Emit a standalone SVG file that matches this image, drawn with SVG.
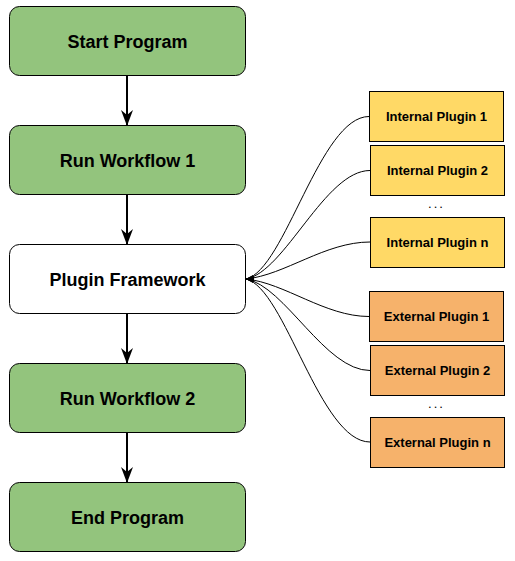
<svg xmlns="http://www.w3.org/2000/svg" width="515" height="561" viewBox="0 0 515 561">
<defs>
<marker id="arr" viewBox="0 0 16 12" refX="15" refY="6" markerWidth="16" markerHeight="12" markerUnits="userSpaceOnUse" orient="auto">
<path d="M0,0 L16,6 L0,12 L5,6 Z" fill="#000"/>
</marker>
<marker id="sm" viewBox="0 0 10 6" refX="10" refY="3" markerWidth="8" markerHeight="5" markerUnits="userSpaceOnUse" orient="auto">
<path d="M0,0 L10,3 L0,6 Z" fill="#000"/>
</marker>
<style>
.main{stroke:#000;stroke-width:1;}
.g{fill:#93c47d;}
.w{fill:#fff;}
.y{fill:#ffd966;}
.o{fill:#f6b26b;}
.t{font-family:"Liberation Sans",Arial,sans-serif;font-weight:bold;font-size:18px;fill:#000;text-anchor:middle;}
.s{font-family:"Liberation Sans",Arial,sans-serif;font-weight:bold;font-size:13px;fill:#000;text-anchor:middle;}
.flow{stroke:#000;stroke-width:2;fill:none;marker-end:url(#arr);}
.curve{stroke:#000;stroke-width:1;fill:none;marker-end:url(#sm);}
</style>
</defs>
<g id="connectors">
<line class="flow" x1="127" y1="76" x2="127" y2="125"/>
<line class="flow" x1="127" y1="195" x2="127" y2="244"/>
<line class="flow" x1="127" y1="314" x2="127" y2="363"/>
<line class="flow" x1="127" y1="433" x2="127" y2="482"/>
<path class="curve" d="M369,116.5 C320,116.5 285,270 246,279"/>
<path class="curve" d="M370,170.5 C325,170.5 285,272 246,279"/>
<path class="curve" d="M370,242 C325,242 285,275 246,279"/>
<path class="curve" d="M369,316.5 C325,316.5 285,283 246,279"/>
<path class="curve" d="M370,370.5 C325,370.5 285,286 246,279"/>
<path class="curve" d="M370,442 C320,442 285,288 246,279"/>
</g>
<g id="start"><rect class="main g" x="9.5" y="6.5" width="236" height="69" rx="10"/><text class="t" x="127.5" y="47.5">Start Program</text></g>
<g id="wf1"><rect class="main g" x="9.5" y="125.5" width="236" height="69" rx="10"/><text class="t" x="127.5" y="166.5">Run Workflow 1</text></g>
<g id="pf"><rect class="main w" x="9.5" y="244.5" width="236" height="69" rx="10"/><text class="t" x="127.5" y="285.5">Plugin Framework</text></g>
<g id="wf2"><rect class="main g" x="9.5" y="363.5" width="236" height="69" rx="10"/><text class="t" x="127.5" y="404.5">Run Workflow 2</text></g>
<g id="end"><rect class="main g" x="9.5" y="482.5" width="236" height="69" rx="10"/><text class="t" x="127.5" y="523.5">End Program</text></g>
<g id="ip1"><rect class="main y" x="369.5" y="91.5" width="134" height="50"/><text class="s" x="436.5" y="121">Internal Plugin 1</text></g>
<g id="ip2"><rect class="main y" x="370.5" y="145.5" width="134" height="50"/><text class="s" x="437.5" y="175">Internal Plugin 2</text></g>
<g id="idots"><text class="s" x="436.5" y="208" style="font-weight:normal;letter-spacing:2px">...</text></g>
<g id="ipn"><rect class="main y" x="370.5" y="217.5" width="134" height="50"/><text class="s" x="437.5" y="247">Internal Plugin n</text></g>
<g id="ep1"><rect class="main o" x="369.5" y="291.5" width="134" height="50"/><text class="s" x="436.5" y="321">External Plugin 1</text></g>
<g id="ep2"><rect class="main o" x="370.5" y="345.5" width="134" height="50"/><text class="s" x="437.5" y="375">External Plugin 2</text></g>
<g id="edots"><text class="s" x="436.5" y="408" style="font-weight:normal;letter-spacing:2px">...</text></g>
<g id="epn"><rect class="main o" x="370.5" y="417.5" width="134" height="50"/><text class="s" x="437.5" y="447">External Plugin n</text></g>
</svg>
